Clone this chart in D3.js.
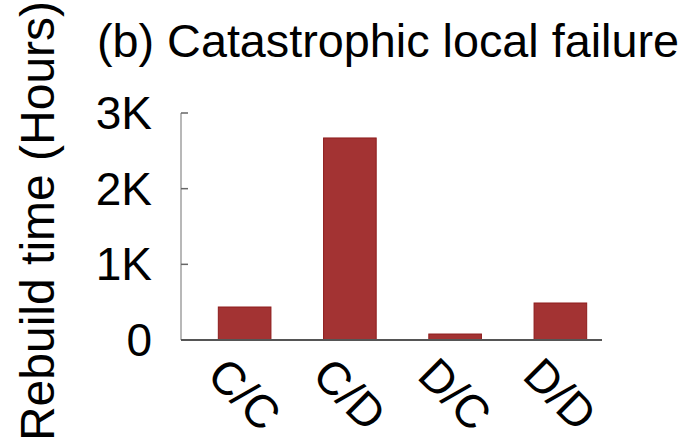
<!DOCTYPE html>
<html>
<head>
<meta charset="utf-8">
<script src="https://cdn.jsdelivr.net/npm/d3@7"></script>
<style>
  body { margin: 0; background: #fff; }
  svg { display: block; font-family: 'Liberation Sans', Arial, sans-serif; }
</style>
</head>
<body>
<div id="chart"></div>
<script>
const categories = ['C/C', 'C/D', 'D/C', 'D/D']
const rebuildHours = [436, 2670, 79, 489]
const yTicks = [0, 1000, 2000, 3000]
const yTickLabels = ['0', '1K', '2K', '3K']

const width = 689
const height = 441

const svg = d3.select('#chart')
  .append('svg')
  .attr('width', width)
  .attr('height', height)

const y = d3.scaleLinear()
  .domain([0, 3000])
  .range([340, 113])

const x = d3.scaleBand()
  .domain(categories)
  .range([192, 613])
  .paddingInner(0.5)
  .paddingOuter(0.25)

// bars
svg.append('g')
  .selectAll('rect')
  .data(categories)
  .join('rect')
  .attr('x', d => x(d))
  .attr('y', (d, i) => y(rebuildHours[i]))
  .attr('width', x.bandwidth())
  .attr('height', (d, i) => y(0) - y(rebuildHours[i]))
  .attr('fill', '#a33333')
  .attr('stroke', '#8e1c1c')
  .attr('stroke-width', 1)

// y axis
svg.append('line')
  .attr('x1', 181).attr('x2', 181)
  .attr('y1', y(3000)).attr('y2', y(0))
  .attr('stroke', '#b8b8b8')
  .attr('stroke-width', 2)

svg.append('g')
  .selectAll('line')
  .data(yTicks)
  .join('line')
  .attr('x1', 181).attr('x2', 188)
  .attr('y1', d => y(d)).attr('y2', d => y(d))
  .attr('stroke', '#666')
  .attr('stroke-width', 1.5)

svg.append('g')
  .selectAll('text')
  .data(yTicks)
  .join('text')
  .attr('x', 152)
  .attr('y', d => y(d))
  .attr('dy', '0.35em')
  .attr('text-anchor', 'end')
  .attr('font-size', 46)
  .text((d, i) => yTickLabels[i])

// x axis
svg.append('line')
  .attr('x1', 181).attr('x2', 602)
  .attr('y1', y(0)).attr('y2', y(0))
  .attr('stroke', '#555')
  .attr('stroke-width', 2)

svg.append('g')
  .selectAll('text')
  .data(categories)
  .join('text')
  .attr('transform', d => `translate(${x(d) + x.bandwidth() / 2},394) rotate(45)`)
  .attr('text-anchor', 'middle')
  .attr('dy', '0.35em')
  .attr('font-size', 46)
  .text(d => d)

// title
svg.append('text')
  .attr('x', 97)
  .attr('y', 57)
  .attr('font-size', 46)
  .attr('textLength', 582)
  .attr('lengthAdjust', 'spacingAndGlyphs')
  .text('(b) Catastrophic local failure')

// y label
svg.append('text')
  .attr('transform', 'translate(54,221) rotate(-90)')
  .attr('text-anchor', 'middle')
  .attr('font-size', 48)
  .text('Rebuild time (Hours)')
</script>
</body>
</html>
